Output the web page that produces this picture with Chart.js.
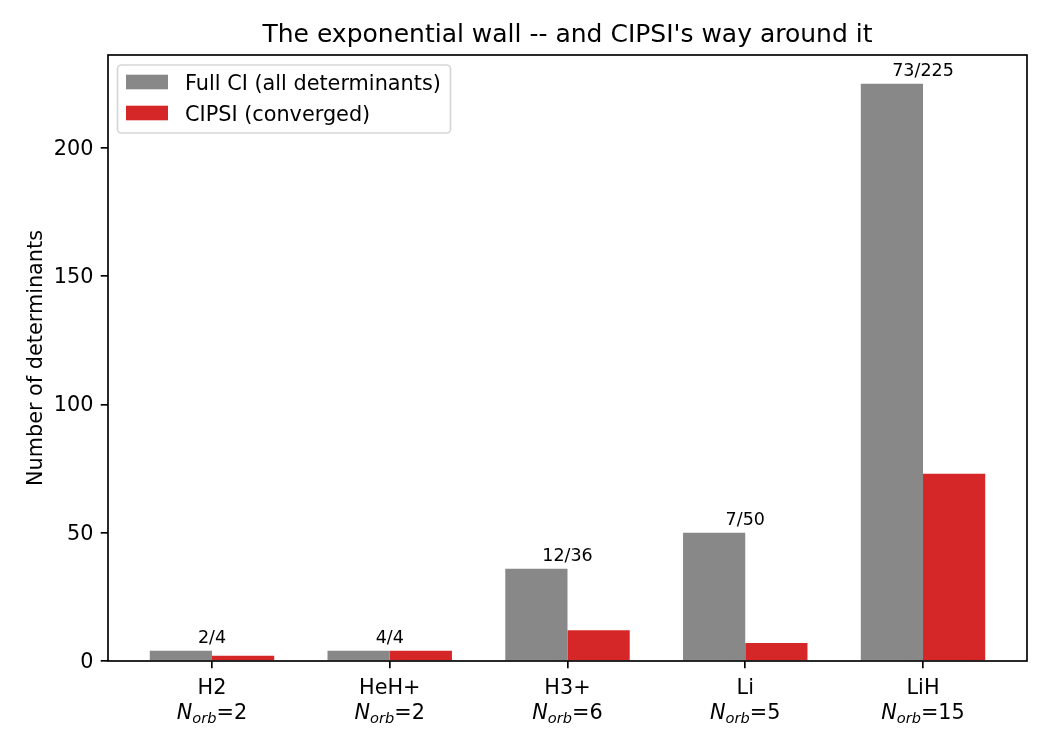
<!DOCTYPE html>
<html>
<head>
<meta charset="utf-8">
<script src="https://cdn.jsdelivr.net/npm/chart.js@4.4.1/dist/chart.umd.min.js"></script>
<style>
  body { margin: 0; background: #fff; }
  #c { display: block; }
</style>
</head>
<body>
<canvas id="c" width="1050" height="750"></canvas>
<script>
// DATA
const molecules = ['H2', 'HeH+', 'H3+', 'Li', 'LiH'];
const norb = [2, 2, 6, 5, 15];
const fullCI = [4, 4, 36, 50, 225];
const cipsi = [2, 4, 12, 7, 73];
const yTicks = [0, 50, 100, 150, 200];

const FONT = '"DejaVu Sans", sans-serif';
const LW = 1.67;

// frame, title, axis label, x labels, annotations, legend
const decorations = {
    id: 'decorations',
    afterDatasetsDraw(chart) {
        const ctx = chart.ctx;
        const a = chart.chartArea;
        const xs = chart.scales.x;
        const ys = chart.scales.y;
        ctx.save();

        // bar annotations
        ctx.fillStyle = '#000';
        ctx.font = '17.5px ' + FONT;
        ctx.textAlign = 'center';
        ctx.textBaseline = 'alphabetic';
        molecules.forEach((m, i) => {
            const x = xs.getPixelForValue(i);
            const y = ys.getPixelForValue(fullCI[i]) - 7.5;
            ctx.fillText(cipsi[i] + '/' + fullCI[i], x, y);
        });

        // spines
        ctx.strokeStyle = '#000';
        ctx.lineWidth = LW;
        ctx.strokeRect(a.left, a.top, a.right - a.left, a.bottom - a.top);

        // title
        ctx.font = '25px ' + FONT;
        ctx.textAlign = 'center';
        ctx.fillText("The exponential wall -- and CIPSI's way around it", (a.left + a.right) / 2, 42);

        // y label
        ctx.save();
        ctx.translate(42, (a.top + a.bottom) / 2);
        ctx.rotate(-Math.PI / 2);
        ctx.font = '20.8px ' + FONT;
        ctx.fillText('Number of determinants', 0, 0);
        ctx.restore();

        // x tick labels (two lines, with N_orb mathtext)
        molecules.forEach((m, i) => {
            const x = xs.getPixelForValue(i);
            ctx.font = '20.8px ' + FONT;
            ctx.textAlign = 'center';
            ctx.fillText(m, x, 694);

            const base = 719;
            const fN = 'italic 20.8px ' + FONT;
            const fS = 'italic 14.6px ' + FONT;
            const fR = '20.8px ' + FONT;
            const tail = '=' + norb[i];
            ctx.font = fN; const wN = ctx.measureText('N').width;
            ctx.font = fS; const wS = ctx.measureText('orb').width;
            ctx.font = fR; const wR = ctx.measureText(tail).width;
            let cx = x - (wN + wS + wR) / 2;
            ctx.textAlign = 'left';
            ctx.font = fN; ctx.fillText('N', cx, base); cx += wN;
            ctx.font = fS; ctx.fillText('orb', cx, base + 4); cx += wS;
            ctx.font = fR; ctx.fillText(tail, cx, base);
        });

        // legend
        const lx = 117.5, ly = 65, lw = 333, lh = 68, r = 4;
        ctx.beginPath();
        ctx.roundRect(lx, ly, lw, lh, r);
        ctx.fillStyle = 'rgba(255,255,255,0.8)';
        ctx.fill();
        ctx.strokeStyle = 'rgba(204,204,204,0.8)';
        ctx.lineWidth = LW;
        ctx.stroke();

        const items = chart.data.datasets;
        items.forEach((ds, k) => {
            const rowY = 82 + k * 31;
            ctx.fillStyle = ds.backgroundColor;
            ctx.fillRect(126, rowY - 7.3, 42, 14.6);
            ctx.fillStyle = '#000';
            ctx.font = '20.8px ' + FONT;
            ctx.textAlign = 'left';
            ctx.fillText(ds.label, 185, rowY + 7.5);
        });

        ctx.restore();
    }
};

const chart_data = {
    datasets: [{
        label: 'Full CI (all determinants)',
        data: fullCI.map((v, i) => ({ x: i, y: v })),
        backgroundColor: '#888888',
        borderWidth: 0
    }, {
        label: 'CIPSI (converged)',
        data: cipsi.map((v, i) => ({ x: i, y: v })),
        backgroundColor: '#d62728',
        borderWidth: 0
    }]
};

const config = {
    type: 'bar',
    data: chart_data,
    options: {
        responsive: false,
        animation: false,
        categoryPercentage: 0.7,
        barPercentage: 1.0,
        layout: { padding: { top: 55, right: 23, left: 0, bottom: 0 } },
        plugins: {
            legend: { display: false },
            title: { display: false },
            tooltip: { enabled: false }
        },
        scales: {
            x: {
                type: 'linear',
                offset: false,
                min: -0.585,
                max: 4.585,
                afterBuildTicks: s => { s.ticks = molecules.map((m, i) => ({ value: i })); },
                afterFit: s => { s.height = 89; },
                border: { display: false },
                grid: {
                    offset: false,
                    drawOnChartArea: false,
                    drawTicks: true,
                    tickLength: 7.3,
                    tickColor: '#000',
                    lineWidth: LW
                },
                ticks: { display: false }
            },
            y: {
                min: 0,
                max: 236.25,
                afterBuildTicks: s => { s.ticks = yTicks.map(v => ({ value: v })); },
                afterFit: s => { s.width = 108; },
                border: { display: false },
                grid: {
                    drawOnChartArea: false,
                    drawTicks: true,
                    tickLength: 7.3,
                    tickColor: '#000',
                    lineWidth: LW
                },
                ticks: {
                    color: '#000',
                    padding: 7.3,
                    labelOffset: 1.5,
                    font: { family: 'DejaVu Sans', size: 20.8 }
                }
            }
        }
    },
    plugins: [decorations]
};

const chart = new Chart(document.getElementById('c'), config);
</script>
</body>
</html>
